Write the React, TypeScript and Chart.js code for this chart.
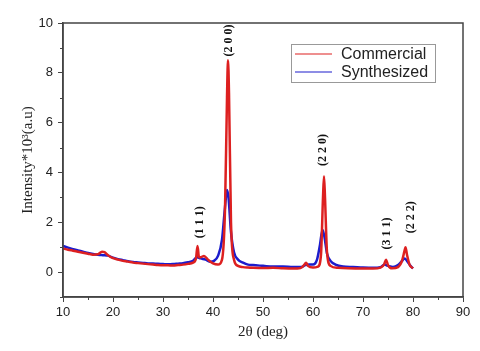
import React, { useEffect, useRef } from 'react';
import { Chart, registerables } from 'chart.js';
Chart.register(...registerables);

const commercialX = [10, 11, 12, 13, 14, 15, 16, 17, 17.8, 18.3, 19, 20, 21, 22, 23, 24, 25, 26, 27, 28, 29, 30, 31, 32, 33, 34, 35, 36, 36.6, 36.9, 37.2, 37.6, 38.2, 39, 40, 41, 41.8, 42.4, 42.8, 43.0, 43.2, 43.6, 44.2, 45, 46, 47, 48, 50, 52, 54, 56, 57.5, 58.3, 58.6, 59, 60, 61, 61.6, 62.0, 62.2, 62.4, 62.8, 63.5, 65, 67, 70, 72, 73.5, 74.2, 74.6, 75.0, 75.8, 77, 77.8, 78.3, 78.5, 78.8, 79.3, 80];
const commercialY = [0.95, 0.9, 0.86, 0.82, 0.78, 0.74, 0.7, 0.72, 0.82, 0.8, 0.68, 0.56, 0.5, 0.45, 0.42, 0.38, 0.36, 0.34, 0.32, 0.3, 0.28, 0.27, 0.27, 0.26, 0.28, 0.3, 0.33, 0.38, 0.55, 1.05, 0.6, 0.6, 0.65, 0.5, 0.35, 0.3, 0.5, 2.5, 7.0, 8.5, 7.2, 2.0, 0.5, 0.25, 0.2, 0.18, 0.17, 0.16, 0.17, 0.15, 0.14, 0.16, 0.3, 0.38, 0.25, 0.18, 0.22, 0.7, 3.0, 3.85, 3.0, 0.8, 0.25, 0.17, 0.15, 0.14, 0.14, 0.18, 0.3, 0.5, 0.28, 0.15, 0.2, 0.45, 0.85, 1.0, 0.7, 0.3, 0.15];

const synthesizedX = [10, 11, 12, 13, 14, 15, 16, 17, 18, 19, 20, 21, 22, 23, 24, 25, 26, 27, 28, 29, 30, 31, 32, 33, 34, 35, 36, 36.8, 37.5, 38.5, 39.5, 40.2, 41, 41.8, 42.4, 42.8, 43.1, 43.6, 44.2, 45, 46, 47, 48, 50, 52, 54, 56, 57.5, 58.5, 59.2, 60, 60.8, 61.4, 61.9, 62.3, 62.8, 63.5, 64.5, 66, 68, 70, 72, 73.5, 74.3, 75, 76, 77, 77.8, 78.3, 78.8, 79.5, 80];
const synthesizedY = [1.05, 0.98, 0.92, 0.87, 0.82, 0.77, 0.73, 0.7, 0.68, 0.66, 0.58, 0.52, 0.48, 0.44, 0.41, 0.39, 0.37, 0.35, 0.34, 0.33, 0.32, 0.31, 0.32, 0.34, 0.36, 0.4, 0.45, 0.6, 0.55, 0.5, 0.42, 0.45, 0.65, 1.3, 2.6, 3.3, 3.0, 1.6, 0.8, 0.5, 0.38, 0.3, 0.28, 0.25, 0.22, 0.22, 0.2, 0.2, 0.28, 0.3, 0.3, 0.5, 1.1, 1.7, 1.4, 0.75, 0.45, 0.3, 0.22, 0.2, 0.18, 0.17, 0.2, 0.3, 0.25, 0.2, 0.28, 0.45, 0.55, 0.45, 0.25, 0.15];

const xTicks = [10, 20, 30, 40, 50, 60, 70, 80, 90];
const xMinorTicks = [15, 25, 35, 45, 55, 65, 75, 85];
const yTicks = [0, 2, 4, 6, 8, 10];
const yMinorTicks = [-1, 1, 3, 5, 7, 9];

const peakLabels = ['(2 0 0)', '(1 1 1)', '(2 2 0)', '(3 1 1)', '(2 2 2)'];
const peakLabelX = [43.2, 37.4, 62.0, 74.8, 79.6];
const peakLabelY = [9.3, 2.0, 4.9, 1.55, 2.2];

const seriesNames = ['Commercial', 'Synthesized'];
const seriesColors = ['#dd2020', '#1c1ccc'];

const xTitle = '2θ (deg)';
const yTitle = 'Intensity*10³(a.u)';

const decor = {
  id: 'decor',
  afterDatasetsDraw(chart: any) {
    const { ctx, chartArea: a, scales } = chart;
    const x = scales.x;
    const y = scales.y;
    ctx.save();
    ctx.strokeStyle = '#444';
    ctx.lineWidth = 1.5;
    ctx.strokeRect(a.left, a.top, a.right - a.left, a.bottom - a.top);
    ctx.lineWidth = 1;
    ctx.beginPath();
    xMinorTicks.forEach((v) => {
      const px = Math.round(x.getPixelForValue(v)) + 0.5;
      ctx.moveTo(px, a.bottom);
      ctx.lineTo(px, a.bottom + 3);
    });
    yMinorTicks.forEach((v) => {
      const py = Math.round(y.getPixelForValue(v)) + 0.5;
      ctx.moveTo(a.left, py);
      ctx.lineTo(a.left - 3, py);
    });
    ctx.stroke();
    ctx.fillStyle = '#111';
    ctx.font = 'bold 12px "Liberation Serif", serif';
    ctx.textAlign = 'center';
    ctx.textBaseline = 'middle';
    peakLabels.forEach((t, i) => {
      const px = x.getPixelForValue(peakLabelX[i]);
      const py = y.getPixelForValue(peakLabelY[i]);
      ctx.save();
      ctx.translate(px, py);
      ctx.rotate(-Math.PI / 2);
      ctx.fillText(t, 0, 0);
      ctx.restore();
    });
    const lx = 291, ly = 44, lw = 144, lh = 38;
    ctx.fillStyle = '#fff';
    ctx.fillRect(lx, ly, lw, lh);
    ctx.strokeStyle = '#999';
    ctx.lineWidth = 1;
    ctx.strokeRect(lx + 0.5, ly + 0.5, lw, lh);
    ctx.font = '16px "Liberation Sans", Arial, sans-serif';
    ctx.textAlign = 'left';
    seriesNames.forEach((n, i) => {
      const yy = ly + 10 + i * 18;
      ctx.strokeStyle = seriesColors[i];
      ctx.lineWidth = 1.2;
      ctx.beginPath();
      ctx.moveTo(lx + 4, yy);
      ctx.lineTo(lx + 41, yy);
      ctx.stroke();
      ctx.fillStyle = '#222';
      ctx.fillText(n, lx + 50, yy + 1);
    });
    ctx.fillStyle = '#222';
    ctx.font = '15px "Liberation Serif", serif';
    ctx.textAlign = 'center';
    ctx.textBaseline = 'middle';
    ctx.fillText(xTitle, (a.left + a.right) / 2, 332);
    ctx.save();
    ctx.translate(28, (a.top + a.bottom) / 2);
    ctx.rotate(-Math.PI / 2);
    ctx.fillText(yTitle, 0, 0);
    ctx.restore();
    ctx.restore();
  },
};

export default function App() {
  const ref = useRef<HTMLCanvasElement>(null);
  useEffect(() => {
    document.body.style.margin = '0';
    const canvas = ref.current!;
    const chart = new Chart(canvas, {
      type: 'line',
      data: {
        datasets: [
          {
            label: seriesNames[0],
            data: commercialX.map((v, i) => ({ x: v, y: commercialY[i] })),
            borderColor: seriesColors[0],
            borderWidth: 2.5,
            pointRadius: 0,
            cubicInterpolationMode: 'monotone',
          },
          {
            label: seriesNames[1],
            data: synthesizedX.map((v, i) => ({ x: v, y: synthesizedY[i] })),
            borderColor: seriesColors[1],
            borderWidth: 2.5,
            pointRadius: 0,
            cubicInterpolationMode: 'monotone',
          },
        ],
      },
      options: {
        animation: false,
        responsive: false,
        layout: { padding: { top: 23, right: 17, left: 0, bottom: 0 } },
        plugins: { legend: { display: false }, tooltip: { enabled: false } },
        scales: {
          x: {
            type: 'linear',
            min: 10,
            max: 90,
            afterBuildTicks: (s: any) => { s.ticks = xTicks.map((v) => ({ value: v })); },
            afterFit: (s: any) => { s.height = 54; },
            grid: { drawOnChartArea: false, drawTicks: true, tickLength: 5, color: '#444' },
            border: { color: '#444', width: 1.5 },
            ticks: { color: '#222', font: { family: '"Liberation Sans", Arial, sans-serif', size: 13 }, padding: 3, maxRotation: 0 },
          },
          y: {
            type: 'linear',
            min: -1,
            max: 10,
            afterBuildTicks: (s: any) => { s.ticks = yTicks.map((v) => ({ value: v })); },
            afterFit: (s: any) => { s.width = 63; },
            grid: { drawOnChartArea: false, drawTicks: true, tickLength: 5, color: '#444' },
            border: { color: '#444', width: 1.5 },
            ticks: { color: '#222', font: { family: '"Liberation Sans", Arial, sans-serif', size: 13 }, padding: 5 },
          },
        },
      },
      plugins: [decor],
    });
    return () => chart.destroy();
  }, []);
  return <canvas ref={ref} width={480} height={351} style={{ display: 'block' }} />;
}
